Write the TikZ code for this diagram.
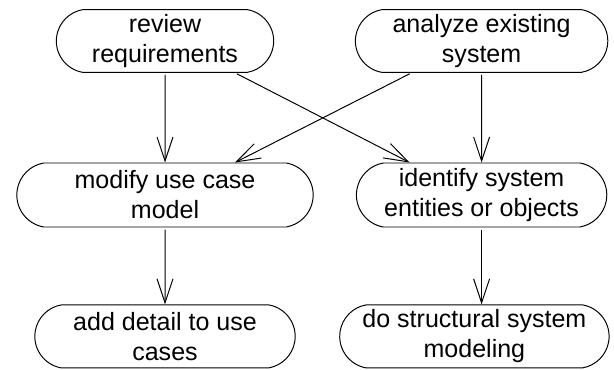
\documentclass[tikz,border=0pt]{standalone}
\usepackage{fontspec}
\setmainfont{Liberation Sans}
\usetikzlibrary{shapes.misc,arrows.meta}

\begin{document}
\begin{tikzpicture}[
    activity/.style={draw,line width=0.7pt,rounded rectangle,rounded rectangle arc length=160,
      align=center,minimum height=1.55cm,inner xsep=2pt,font=\fontsize{17.8}{21.3}\selectfont},
    flow/.style={line width=0.7pt,shorten <=1.5pt,-{Straight Barb[length=6mm,width=4mm]}}]
      \useasboundingbox (0,0) rectangle (15.35,-9.25);
      \node[activity,minimum width=5.575cm] (review) at (4.125,-1.025) {review\\requirements};
      \node[activity,minimum width=6.45cm] (analyze) at (12.04,-1.025) {analyze existing\\system};
      \node[activity,minimum width=7.55cm,minimum height=1.6cm] (modify) at (4.125,-4.875) {modify use case\\model};
      \node[activity,minimum width=6.4cm,minimum height=1.6cm] (identify) at (12.04,-4.875) {identify system\\entities or objects};
      \node[activity,minimum width=6.65cm,minimum height=1.575cm] (detail) at (4.125,-8.41) {add detail to use\\cases};
      \node[activity,minimum width=6.875cm,minimum height=1.575cm] (structural) at (11.86,-8.41) {do structural system\\modeling};
      \draw[flow] (review) -- (modify);
      \draw[flow] ([xshift=1.75cm]review.south) -- ([xshift=-1.8cm]identify.north);
      \draw[flow] ([xshift=-1.75cm]analyze.south) -- ([xshift=1.75cm]modify.north);
      \draw[flow] (analyze) -- (identify);
      \draw[flow] (modify) -- (detail);
      \draw[flow] (identify.south) -- (identify.south |- structural.north);
\end{tikzpicture}
\end{document}
